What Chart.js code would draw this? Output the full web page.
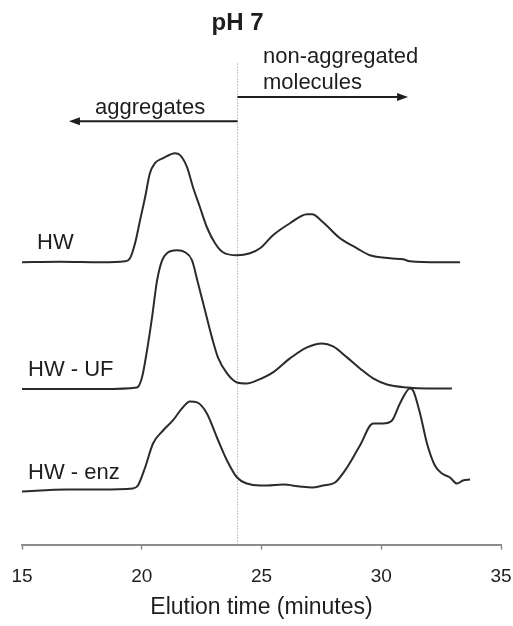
<!DOCTYPE html>
<html lang="en">
<head>
    <meta charset="UTF-8">
    <title>pH 7 elution profiles</title>
    <script src="https://cdn.jsdelivr.net/npm/chart.js"></script>
    <style>
        body {
            margin: 0;
            padding: 0;
            background: #ffffff;
        }
        #wrap {
            width: 513px;
            height: 626px;
        }
    </style>
</head>
<body>
    <div id="wrap">
        <canvas id="elution" width="513" height="626"></canvas>
    </div>
    <script>
        // elution time ticks
        const xTicks = [15, 20, 25, 30, 35];
        const dividerTime = 24;

        // HW trace (signal above its own baseline)
        const hwBaseline = 56.4;
        const hwTime = [14.92, 16.6, 18.3, 19.3, 19.51, 19.72, 19.93, 20.14, 20.34, 20.55, 20.89, 21.39, 21.6, 21.89, 22.14, 22.43, 22.72, 23.06, 23.39, 23.98, 24.52, 24.94, 25.48, 26.19, 26.9, 27.11, 27.57, 28.28, 28.99, 29.53, 30.37, 30.91, 31.2, 32.45, 33.29];
        const hwSignal = [0, 0.1, 0, 0.2, 0.8, 3.8, 8.4, 13, 17.8, 19.8, 20.8, 21.8, 21.4, 19, 15, 11, 7, 3.8, 2, 1.4, 1.8, 2.8, 5.4, 7.8, 9.6, 9.6, 8, 4.8, 2.8, 1.4, 0.8, 0.6, 0.2, 0, 0];

        // HW - UF trace
        const ufBaseline = 31.1;
        const ufTime = [14.92, 18.38, 19.8, 20.01, 20.22, 20.43, 20.64, 20.85, 21.05, 21.47, 21.81, 22.1, 22.35, 22.64, 22.93, 23.18, 23.56, 23.98, 24.39, 24.81, 25.48, 26.19, 26.9, 27.53, 27.99, 28.57, 29.11, 29.66, 30.24, 31.08, 31.91, 32.95];
        const ufSignal = [0, 0, 0.3, 2.3, 7.7, 14.3, 21.7, 25.7, 27.1, 27.7, 27.3, 25.7, 21.1, 15.7, 10.3, 6.3, 3.1, 1.3, 1.1, 1.7, 3.3, 6.1, 8.3, 9.1, 8.5, 6.3, 4.1, 2.1, 0.9, 0.3, 0.1, 0.1];

        // HW - enz trace
        const enzBaseline = 11;
        const enzTime = [14.92, 16.88, 18.26, 19.63, 19.84, 20.14, 20.47, 20.89, 21.3, 21.68, 22.01, 22.31, 22.72, 23.14, 23.56, 23.98, 24.39, 24.94, 25.23, 25.9, 26.61, 27.11, 27.57, 28.07, 28.57, 29.11, 29.66, 30.07, 30.45, 30.78, 31.2, 31.33, 31.62, 31.91, 32.24, 32.54, 32.87, 33.16, 33.41, 33.71];
        const enzSignal = [-0.4, 0, 0, 0.2, 0.8, 4.4, 9.2, 11.8, 13.8, 16.2, 17.6, 17.4, 15.2, 10.4, 5.8, 2.4, 1.2, 0.8, 0.8, 1.0, 0.6, 0.4, 0.8, 1.4, 4.4, 8.8, 13.2, 13.2, 13.8, 17.2, 20.2, 19.8, 15.2, 9.2, 4.8, 3.2, 2.4, 1.2, 1.8, 2.0];

        const fontFamily = "'Liberation Sans', Arial, Helvetica, sans-serif";

        function toPoints(times, signal, base) {
            return times.map((t, i) => ({ x: t, y: base + signal[i] }));
        }

        function traceStyle(label, data) {
            return {
                label: label,
                data: data,
                borderColor: '#2b2b2b',
                borderWidth: 2,
                pointRadius: 0,
                fill: false,
                cubicInterpolationMode: 'monotone'
            };
        }

        function arrow(ctx, x1, x2, y) {
            const dir = x2 > x1 ? 1 : -1;
            ctx.beginPath();
            ctx.moveTo(x1, y);
            ctx.lineTo(x2 - dir * 8, y);
            ctx.stroke();
            ctx.beginPath();
            ctx.moveTo(x2, y);
            ctx.lineTo(x2 - dir * 11, y - 4);
            ctx.lineTo(x2 - dir * 11, y + 4);
            ctx.closePath();
            ctx.fill();
        }

        const annotations = {
            id: 'annotations',
            afterDatasetsDraw(chart) {
                const ctx = chart.ctx;
                const xs = chart.scales.x;
                const ys = chart.scales.y;
                const px = v => xs.getPixelForValue(v);
                const py = v => ys.getPixelForValue(v);

                ctx.save();
                ctx.fillStyle = '#1e1e1e';
                ctx.strokeStyle = '#1e1e1e';
                ctx.textBaseline = 'middle';

                ctx.font = 'bold 24px ' + fontFamily;
                ctx.textAlign = 'center';
                ctx.fillText('pH 7', px(dividerTime), py(104.2));

                ctx.font = '22px ' + fontFamily;
                ctx.textAlign = 'left';
                ctx.fillText('non-aggregated', px(25.06), py(97.4));
                ctx.fillText('molecules', px(25.06), py(92.2));
                ctx.fillText('aggregates', px(18.05), py(87.2));

                ctx.fillText('HW', px(15.63), py(60.2));
                ctx.fillText('HW - UF', px(15.25), py(34.8));
                ctx.fillText('HW - enz', px(15.25), py(14.4));

                ctx.lineWidth = 2;
                arrow(ctx, px(dividerTime), px(31.12), py(89.4));
                arrow(ctx, px(dividerTime), px(16.96), py(84.6));
                ctx.restore();
            }
        };

        const ctx = document.getElementById('elution').getContext('2d');
        new Chart(ctx, {
            type: 'line',
            data: {
                datasets: [
                    traceStyle('HW', toPoints(hwTime, hwSignal, hwBaseline)),
                    traceStyle('HW - UF', toPoints(ufTime, ufSignal, ufBaseline)),
                    traceStyle('HW - enz', toPoints(enzTime, enzSignal, enzBaseline)),
                    {
                        label: 'divider',
                        data: [{ x: dividerTime, y: 0 }, { x: dividerTime, y: 96.4 }],
                        borderColor: '#8a8a8a',
                        borderWidth: 1,
                        borderDash: [1, 2],
                        pointRadius: 0,
                        fill: false
                    }
                ]
            },
            plugins: [annotations],
            options: {
                responsive: false,
                animation: false,
                layout: {
                    padding: { left: 22, right: 12, top: 0, bottom: 0 }
                },
                plugins: {
                    legend: { display: false },
                    tooltip: { enabled: false },
                    title: { display: false }
                },
                scales: {
                    x: {
                        type: 'linear',
                        min: 15,
                        max: 35,
                        afterBuildTicks: axis => {
                            axis.ticks = xTicks.map(v => ({ value: v }));
                        },
                        afterFit: axis => {
                            // labels at the ends may overhang a little
                            axis.paddingLeft = 11;
                            axis.paddingRight = 11;
                        },
                        grid: {
                            drawOnChartArea: false,
                            drawTicks: true,
                            tickLength: 5,
                            tickColor: '#8c8c8c',
                            tickWidth: 1.5
                        },
                        border: {
                            color: '#8c8c8c',
                            width: 2
                        },
                        ticks: {
                            color: '#1e1e1e',
                            padding: 16,
                            font: { family: fontFamily, size: 19 }
                        },
                        title: {
                            display: true,
                            text: 'Elution time (minutes)',
                            color: '#1e1e1e',
                            font: { family: fontFamily, size: 23 },
                            padding: { top: -11, bottom: 5 }
                        }
                    },
                    y: {
                        display: false,
                        min: 0,
                        max: 108.8
                    }
                }
            }
        });
    </script>
</body>
</html>
